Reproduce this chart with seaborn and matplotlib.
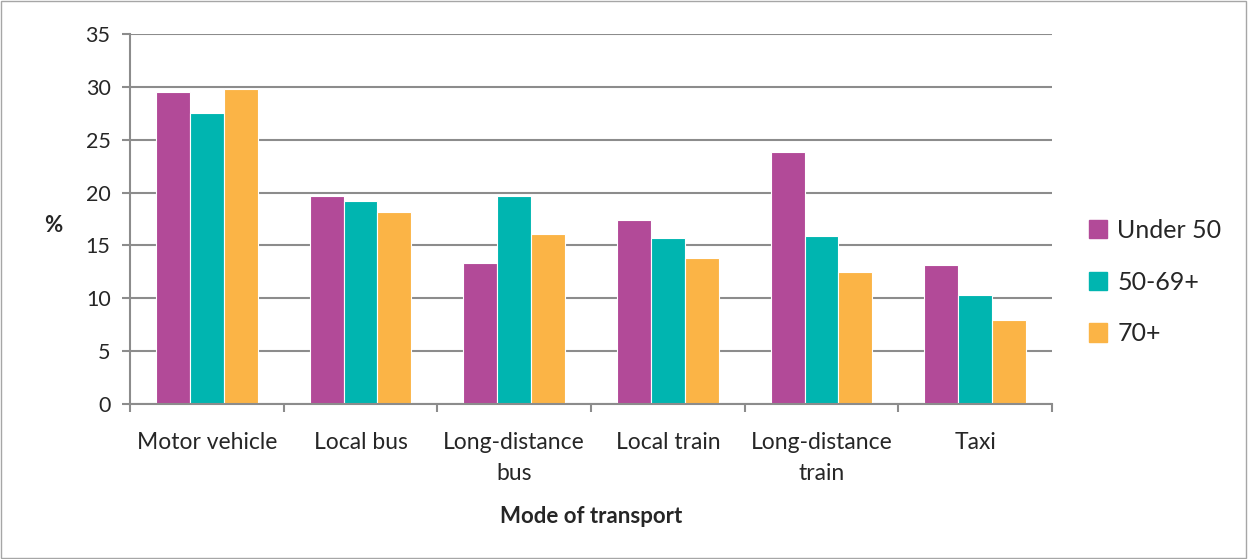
import pandas as pd
import matplotlib
matplotlib.use("Agg")
import matplotlib.pyplot as plt
import seaborn as sns
from matplotlib.patches import Rectangle
from matplotlib.ticker import FixedLocator

# Data
modes = ["Motor vehicle", "Local bus", "Long-distance\nbus", "Local train",
         "Long-distance\ntrain", "Taxi"]
groups = ["Under 50", "50-69+", "70+"]
under_50 = [29.5, 19.7, 13.3, 17.4, 23.8, 13.15]
age_50_69 = [27.5, 19.2, 19.7, 15.7, 15.9, 10.3]
age_70_plus = [29.8, 18.2, 16.1, 13.8, 12.5, 7.95]
palette = ["#B24A98", "#00B5B0", "#FBB446"]

df = pd.DataFrame({
    "mode": modes * 3,
    "group": [g for g in groups for _ in modes],
    "value": under_50 + age_50_69 + age_70_plus,
})

sns.set_theme(style="white")
plt.rcParams["font.family"] = ["Lato", "DejaVu Sans"]

fig = plt.figure(figsize=(12.48, 5.59), dpi=100)
ax = fig.add_axes([130 / 1248, 1 - 404 / 559, 922 / 1248, 370 / 559])

sns.barplot(data=df, x="mode", y="value", hue="group", palette=palette,
            width=0.66, gap=0, edgecolor="white", linewidth=0.8,
            saturation=1, ax=ax, legend=True)

ax.set_xlim(-0.5, 5.5)
ax.set_ylim(0, 35)
ax.set_yticks(range(0, 36, 5))
ax.yaxis.grid(True, color="#8C8C8C", linewidth=1.5)
ax.set_axisbelow(True)

for side in ["top", "right"]:
    ax.spines[side].set_visible(False)
for side in ["left", "bottom"]:
    ax.spines[side].set_color("#8C8C8C")
    ax.spines[side].set_linewidth(1.5)

ax.tick_params(axis="y", which="major", length=6, width=1.5, color="#8C8C8C",
               direction="out", left=True, labelsize=15.5, pad=8)
ax.tick_params(axis="x", which="major", length=0, labelsize=16.5, pad=20)
for lbl in ax.get_xticklabels():
    lbl.set_linespacing(1.6)
ax.xaxis.set_minor_locator(FixedLocator([i - 0.5 for i in range(7)]))
ax.tick_params(axis="x", which="minor", length=6, width=1.5, color="#8C8C8C",
               direction="out", bottom=True)

ax.set_xlabel("Mode of transport", fontsize=16, fontweight="bold", labelpad=16)
ax.set_ylabel("%", fontsize=16, fontweight="bold", rotation=0)
ax.yaxis.set_label_coords(-0.083, 0.455)

ax.get_legend().remove()
handles = [Rectangle((0, 0), 1, 1, color=c) for c in palette]
fig.legend(handles, groups, loc="center left", bbox_to_anchor=(1066 / 1248, 1 - 282 / 559),
           frameon=False, fontsize=18, handlelength=0.75, handleheight=0.75,
           handletextpad=0.4, labelspacing=1.15)

fig.add_artist(Rectangle((0.001, 0.002), 0.997, 0.996, transform=fig.transFigure,
                         fill=False, edgecolor="#A6A6A6", linewidth=1))

fig.savefig("out.png", dpi=100)
